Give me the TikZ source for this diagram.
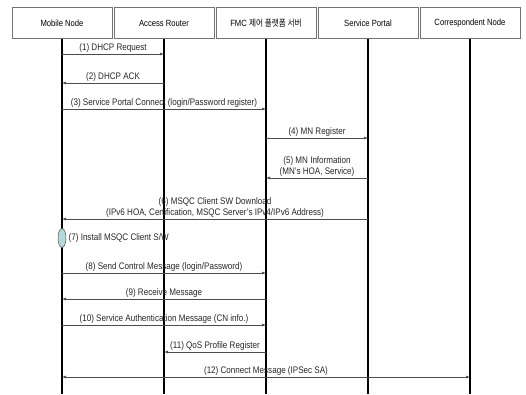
\documentclass[tikz,border=0pt]{standalone}
\usepackage{fontspec}
\setmainfont{Liberation Sans}[FakeStretch=0.85]
\newfontfamily\krfont{Noto Sans CJK KR}[FakeStretch=0.85]
\usetikzlibrary{arrows.meta,shapes.geometric}
\definecolor{steppale}{RGB}{180,218,220}

\begin{document}
\begin{tikzpicture}[x=1pt, y=-1pt, >={Latex[length=4pt,width=3pt]},
  entity/.style={draw=black!55, line width=0.5pt, minimum width=100pt,
    minimum height=31pt, inner sep=0pt, font=\fontsize{9}{10}\selectfont},
  lifeline/.style={line width=1.4pt, black},
  msg/.style={line width=0.6pt, draw=black!70},
  msgtext/.style={font=\fontsize{9.5}{11}\selectfont, text=black!85,
    inner sep=1.2pt, align=center}]

\useasboundingbox (0,0) rectangle (526,394);

% ---------- entities and lifelines ----------
\node[entity] (mn)  at (62,23)  {Mobile Node};
\node[entity] (ar)  at (164,23) {Access Router};
\node[entity] (fmc) at (266,23) {FMC {\krfont 제어 플랫폼 서버}};
\node[entity] (sp)  at (368,23) {Service Portal};
\node[entity] (cn)  at (470,23) {Correspondent Node};

\foreach \ent in {mn,ar,fmc,sp,cn}
  \draw[lifeline] (\ent.south) -- (\ent.south |- 0,394);

% ---------- messages ----------
\draw[msg,->] (mn |- 0,54) -- node[msgtext,above] {(1) DHCP Request} (ar |- 0,54);
\draw[msg,->] (ar |- 0,83) -- node[msgtext,above] {(2) DHCP ACK} (mn |- 0,83);
\draw[msg,->] (mn |- 0,109) -- node[msgtext,above] {(3) Service Portal Connect (login/Password register)} (fmc |- 0,109);
\draw[msg,->] (fmc |- 0,138) -- node[msgtext,above] {(4) MN Register} (sp |- 0,138);
\draw[msg,->] (sp |- 0,178) -- node[msgtext,above] {(5) MN Information\\(MN's HOA, Service)} (fmc |- 0,178);
\draw[msg,->] (sp |- 0,219) -- node[msgtext,above] {(6) MSQC Client SW Download\\(IPv6 HOA, Certification, MSQC Server's IPv4/IPv6 Address)} (mn |- 0,219);

% local step on the mobile node
\node[ellipse, draw=black!70, fill=steppale, line width=0.5pt,
  minimum width=8pt, minimum height=19pt, inner sep=0pt] (inst) at (62,238) {};
\node[msgtext, anchor=west] at ([xshift=1pt]inst.east) {(7) Install MSQC Client S/W};

\draw[msg,->] (mn |- 0,273) -- node[msgtext,above] {(8) Send Control Message (login/Password)} (fmc |- 0,273);
\draw[msg,->] (fmc |- 0,299) -- node[msgtext,above] {(9) Receive Message} (mn |- 0,299);
\draw[msg,->] (mn |- 0,325) -- node[msgtext,above] {(10) Service Authentication Message (CN info.)} (fmc |- 0,325);
\draw[msg,->] (fmc |- 0,352) -- node[msgtext,above] {(11) QoS Profile Register} (ar |- 0,352);
\draw[msg,<->] (mn |- 0,377) -- node[msgtext,above] {(12) Connect Message (IPSec SA)} (cn |- 0,377);

\end{tikzpicture}
\end{document}
